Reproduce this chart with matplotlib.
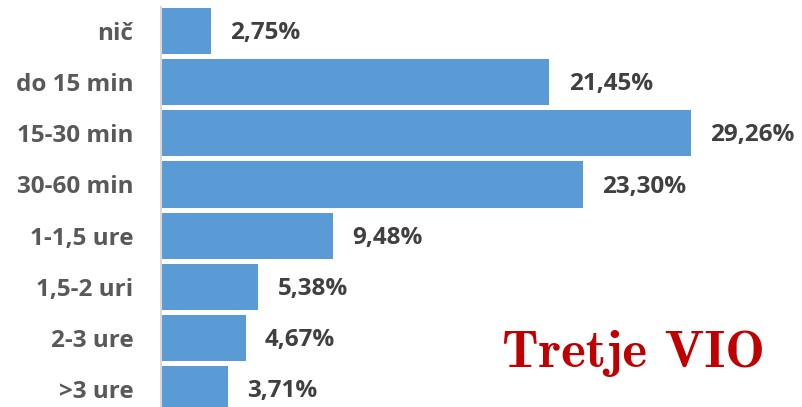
import matplotlib.pyplot as plt
import numpy as np

categories = ['nič', 'do 15 min', '15-30 min', '30-60 min', '1-1,5 ure', '1,5-2 uri', '2-3 ure', '>3 ure']
values = [2.75, 21.45, 29.26, 23.30, 9.48, 5.38, 4.67, 3.71]

fig = plt.figure(figsize=(8.03, 4.07), dpi=100)
ax = fig.add_axes([161 / 803, 0, 642 / 803, 400 / 407])

y = np.arange(len(categories))
ax.barh(y, values, height=0.9, color='#5B9BD5')

ax.set_ylim(7.35, -0.47)
ax.set_xlim(0, 642 / 18.1)

ax.set_yticks(y)
ax.set_yticklabels(categories, fontfamily='Open Sans', fontweight='bold', fontsize=17.5, color='#595959')
ax.tick_params(axis='y', length=0, pad=20)
ax.set_xticks([])

for s in ['top', 'right', 'bottom']:
    ax.spines[s].set_visible(False)
ax.spines['left'].set_color('#D9D9D9')
ax.spines['left'].set_linewidth(1.5)

for yi, v in zip(y, values):
    ax.annotate(f'{v:.2f}%'.replace('.', ','), (v, yi), xytext=(14, -1.5),
                textcoords='offset points', va='center', ha='left',
                fontfamily='Open Sans', fontweight='bold', fontsize=17.5, color='#404040',
                annotation_clip=False)

fig.text(765 / 803, 1 - 367 / 407, 'Tretje VIO', family='cmb10', fontsize=38,
         color='#C00000', ha='right', va='baseline')

fig.savefig('out.png', dpi=100)
